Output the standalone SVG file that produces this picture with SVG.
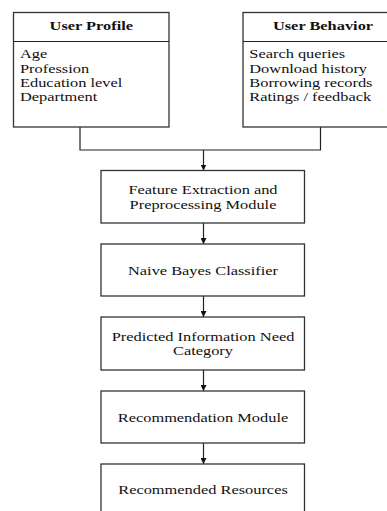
<svg xmlns="http://www.w3.org/2000/svg" width="387" height="511" viewBox="0 0 387 511">
<defs>
<style>
.box{fill:#fff;stroke:#333;stroke-width:1.3}
.ln{fill:none;stroke:#222;stroke-width:1.2}
text{font-family:"Liberation Serif","Times New Roman",serif;font-size:12.8px;fill:#111}
.h{font-weight:bold;text-anchor:middle}
.c{text-anchor:middle}
</style>
<marker id="ah" viewBox="0 0 10 10" refX="10" refY="5" markerWidth="6" markerHeight="6" markerUnits="userSpaceOnUse" orient="auto">
<path d="M0,0 L10,5 L0,10 z" fill="#111"/>
</marker>
</defs>
<rect width="387" height="511" fill="#fff"/>
<g id="connectors">
<polyline class="ln" points="80,127 80,150 320.5,150 320.5,127"/>
<line class="ln" x1="203.5" y1="150" x2="203.5" y2="170.5" marker-end="url(#ah)"/>
<line class="ln" x1="203.5" y1="223" x2="203.5" y2="244" marker-end="url(#ah)"/>
<line class="ln" x1="203.5" y1="296" x2="203.5" y2="317" marker-end="url(#ah)"/>
<line class="ln" x1="203.5" y1="370" x2="203.5" y2="391" marker-end="url(#ah)"/>
<line class="ln" x1="203.5" y1="443" x2="203.5" y2="464" marker-end="url(#ah)"/>
</g>
<g id="user-profile">
<rect class="box" x="13.5" y="12.5" width="155.5" height="114.5"/>
<line class="ln" x1="13.5" y1="41.5" x2="169" y2="41.5"/>
<text class="h" transform="translate(91.3,30) scale(1.28,1)">User Profile</text>
<text transform="translate(20,58.3) scale(1.28,1)">Age</text>
<text transform="translate(20,72.7) scale(1.28,1)">Profession</text>
<text transform="translate(20,87) scale(1.28,1)">Education level</text>
<text transform="translate(20,101.3) scale(1.28,1)">Department</text>
</g>
<g id="user-behavior">
<rect class="box" x="243" y="12.5" width="160" height="114.5"/>
<line class="ln" x1="243" y1="41.5" x2="403" y2="41.5"/>
<text class="h" transform="translate(323,30) scale(1.28,1)">User Behavior</text>
<text transform="translate(249.3,58.3) scale(1.28,1)">Search queries</text>
<text transform="translate(249.3,72.7) scale(1.28,1)">Download history</text>
<text transform="translate(249.3,87) scale(1.28,1)">Borrowing records</text>
<text transform="translate(249.3,101.3) scale(1.28,1)">Ratings / feedback</text>
</g>
<g id="feature-extraction">
<rect class="box" x="101" y="170.5" width="203.5" height="52.5"/>
<text class="c" transform="translate(203,194) scale(1.28,1)">Feature Extraction and</text>
<text class="c" transform="translate(203,209.3) scale(1.28,1)">Preprocessing Module</text>
</g>
<g id="naive-bayes">
<rect class="box" x="101" y="244" width="203.5" height="52"/>
<text class="c" transform="translate(203,274.5) scale(1.28,1)">Naive Bayes Classifier</text>
</g>
<g id="predicted-category">
<rect class="box" x="101" y="317" width="203.5" height="53"/>
<text class="c" transform="translate(203,341) scale(1.28,1)">Predicted Information Need</text>
<text class="c" transform="translate(203,355.3) scale(1.28,1)">Category</text>
</g>
<g id="recommendation-module">
<rect class="box" x="101" y="391" width="203.5" height="52"/>
<text class="c" transform="translate(203,421.5) scale(1.28,1)">Recommendation Module</text>
</g>
<g id="recommended-resources">
<rect class="box" x="101" y="464" width="203.5" height="60"/>
<text class="c" transform="translate(203,494) scale(1.28,1)">Recommended Resources</text>
</g>
</svg>
